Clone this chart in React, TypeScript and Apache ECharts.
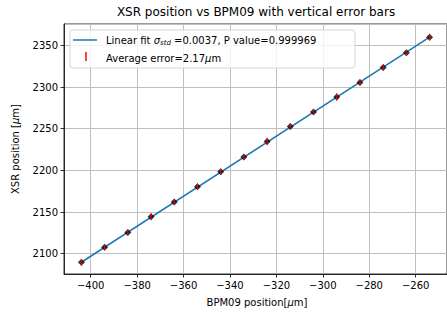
import React, { useEffect, useRef } from "react";
import * as echarts from "echarts";

const xValues = [-404, -394, -384, -374, -364, -354, -344, -334, -324, -314, -304, -294, -284, -274, -264, -254];
const yValues = [2089.6, 2107.6, 2125.5, 2144.4, 2162.0, 2180.3, 2198.3, 2215.9, 2234.7, 2252.6, 2269.9, 2287.9, 2305.4, 2323.4, 2341.0, 2359.8];
const yErrors = [4.0, 3.5, 3.5, 4.0, 3.5, 4.0, 3.5, 3.5, 4.5, 3.5, 3.5, 4.5, 3.5, 3.5, 3.5, 4.0];
const fitX = [-404, -254];
const fitY = [2089.7, 2359.9];
const xTickValues = [-400, -380, -360, -340, -320, -300, -280, -260];
const yTickValues = [2100, 2150, 2200, 2250, 2300, 2350];

const FONT = "DejaVu Sans";
const fmtNum = (v: number) => (v < 0 ? "\u2212" + Math.abs(v) : String(v));

export default function App() {
  const ref = useRef<HTMLDivElement>(null);
  useEffect(() => {
    if (!ref.current) return;
    const chart = echarts.init(ref.current, null, { renderer: "svg" });
    const points = xValues.map((x, i) => [x, yValues[i]]);
    const errs = xValues.map((x, i) => [x, yValues[i], yErrors[i]]);
    const fit = fitX.map((x, i) => [x, fitY[i]]);
    chart.setOption({
      animation: false,
      backgroundColor: "#fff",
      textStyle: { fontFamily: FONT },
      grid: {
        left: 64,
        top: 24,
        width: 387,
        height: 250,
        show: true,
        borderColor: "#000",
        borderWidth: 0.8,
        backgroundColor: "transparent",
      },
      xAxis: {
        type: "value",
        min: -411.5,
        max: -246.5,
        splitNumber: 8,
        axisLine: { show: true, lineStyle: { color: "#000", width: 0.8 } },
        axisTick: { show: true, length: 3.5, lineStyle: { color: "#000", width: 0.8 } },
        axisLabel: {
          margin: 6,
          color: "#000",
          fontSize: 10,
          fontFamily: FONT,
          showMinLabel: false,
          showMaxLabel: false,
          formatter: (v: number) => (xTickValues.some((t) => Math.abs(t - v) < 1e-6) ? fmtNum(v) : ""),
        },
        splitLine: { show: true, lineStyle: { color: "#c0c0c0", width: 1 } },
      },
      yAxis: {
        type: "value",
        min: 2075.6,
        max: 2375.6,
        splitNumber: 6,
        axisLine: { show: true, lineStyle: { color: "#000", width: 0.8 } },
        axisTick: { show: true, length: 3.5, lineStyle: { color: "#000", width: 0.8 } },
        axisLabel: {
          margin: 6,
          color: "#000",
          fontSize: 10,
          fontFamily: FONT,
          showMinLabel: false,
          showMaxLabel: false,
          formatter: (v: number) => (yTickValues.some((t) => Math.abs(t - v) < 1e-6) ? fmtNum(v) : ""),
        },
        splitLine: { show: true, lineStyle: { color: "#c0c0c0", width: 1 } },
      },
      series: [
        {
          type: "line",
          data: fit,
          showSymbol: false,
          lineStyle: { color: "#1f77b4", width: 1.5 },
          z: 3,
        },
        {
          type: "scatter",
          data: points,
          symbol: "diamond",
          symbolSize: [7, 7],
          itemStyle: { color: "#000" },
          z: 4,
        },
        {
          type: "custom",
          data: errs,
          z: 5,
          renderItem: (params: any, api: any) => {
            const x = api.value(0);
            const y = api.value(1);
            const e = api.value(2);
            const p1 = api.coord([x, y - e]);
            const p2 = api.coord([x, y + e]);
            return {
              type: "line",
              shape: { x1: p1[0], y1: p1[1], x2: p2[0], y2: p2[1] },
              style: { stroke: "#ff0000", lineWidth: 1.1 },
            };
          },
        },
      ],
      graphic: [
        {
          type: "text",
          x: 256,
          y: 12,
          style: {
            text: "XSR position vs BPM09 with vertical error bars",
            fontFamily: FONT,
            fontSize: 12,
            fill: "#000",
            align: "center",
            verticalAlign: "middle",
          },
        },
        {
          type: "text",
          x: 257,
          y: 302,
          style: {
            text: "BPM09 position[{i|\u03bc}m]",
            fontFamily: FONT,
            fontSize: 10,
            fill: "#000",
            align: "center",
            verticalAlign: "middle",
            rich: { i: { fontStyle: "italic", fontFamily: FONT, fontSize: 10, fill: "#000" } },
          },
        },
        {
          type: "text",
          x: 15,
          y: 149,
          rotation: Math.PI / 2,
          style: {
            text: "XSR position [{i|\u03bc}m]",
            fontFamily: FONT,
            fontSize: 10,
            fill: "#000",
            align: "center",
            verticalAlign: "middle",
            rich: { i: { fontStyle: "italic", fontFamily: FONT, fontSize: 10, fill: "#000" } },
          },
        },
        {
          type: "rect",
          z: 10,
          shape: { x: 70, y: 30, width: 285, height: 38, r: 3 },
          style: { fill: "rgba(255,255,255,0.8)", stroke: "#d5d5d5", lineWidth: 1 },
        },
        {
          type: "line",
          z: 11,
          shape: { x1: 73, y1: 40, x2: 97, y2: 40 },
          style: { stroke: "#1f77b4", lineWidth: 1.5 },
        },
        {
          type: "text",
          z: 11,
          x: 106,
          y: 40,
          style: {
            text: "Linear fit {i|\u03c3}{s|std} =0.0037, P value=0.999969",
            fontFamily: FONT,
            fontSize: 10,
            fill: "#000",
            verticalAlign: "middle",
            rich: {
              i: { fontStyle: "italic", fontFamily: FONT, fontSize: 10, fill: "#000" },
              s: { fontStyle: "italic", fontFamily: FONT, fontSize: 7, fill: "#000", padding: [6, 0, 0, 0] },
            },
          },
        },
        {
          type: "line",
          z: 11,
          shape: { x1: 86, y1: 52, x2: 86, y2: 61 },
          style: { stroke: "#ff0000", lineWidth: 1.5 },
        },
        {
          type: "text",
          z: 11,
          x: 106,
          y: 58,
          style: {
            text: "Average error=2.17{i|\u03bc}m",
            fontFamily: FONT,
            fontSize: 10,
            fill: "#000",
            verticalAlign: "middle",
            rich: { i: { fontStyle: "italic", fontFamily: FONT, fontSize: 10, fill: "#000" } },
          },
        },
      ],
    });
    return () => chart.dispose();
  }, []);
  return (
    <div
      ref={ref}
      style={{ position: "absolute", left: 0, top: 0, width: 447, height: 313, background: "#fff" }}
    />
  );
}
